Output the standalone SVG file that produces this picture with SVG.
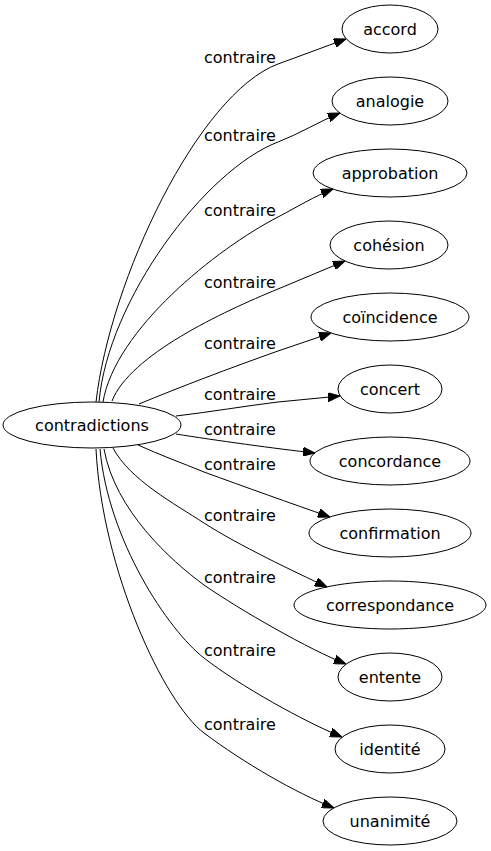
<svg xmlns="http://www.w3.org/2000/svg" width="491" height="851" viewBox="0 0 491 851">
<defs>
<style>
.n ellipse{fill:none;stroke:#000;stroke-width:1}
text{font-family:"DejaVu Sans",sans-serif;font-size:16px;fill:#000}
.n text{text-anchor:middle}
.e path{fill:none;stroke:#000;stroke-width:1;marker-end:url(#ah)}
</style>
<marker id="ah" markerWidth="12" markerHeight="9" refX="12" refY="4.5" orient="auto" markerUnits="userSpaceOnUse">
<path d="M0,0 L12,4.5 L0,9 z" fill="#000" stroke="#000" stroke-width="1"/>
</marker>
</defs>
<rect width="491" height="851" fill="#fff"/>
<g id="edges" class="e">
<path d="M96,402 C110,280 198,94 278,64 C300,56 324,47 346,39"/>
<path d="M99,402 C108,300 205,170 278,142 C299,134 320,121 340,113"/>
<path d="M103,402 C115,330 216,249 278,217 C297,207 315,196 333,189"/>
<path d="M112,401 C130,355 222,312 278,289 C300,280 323,270 345,261"/>
<path d="M139,404 C180,387 230,368 278,351 C296,345 313,339 331,333"/>
<path d="M176,416 C210,412 245,406 278,402 C299,400 319,398 340,396"/>
<path d="M176,434 C213,440 278,449 315,453"/>
<path d="M138,445 C160,455 182,463 204,472 C245,487 290,503 330,517"/>
<path d="M113,448 C130,480 175,504 204,523 C238,545 295,572 327,587"/>
<path d="M104,449 C115,510 170,560 204,585 C240,610 310,650 346,664"/>
<path d="M100,449 C108,540 168,630 204,658 C240,686 305,722 342,737"/>
<path d="M96,449 C102,570 164,703 204,733 C244,763 296,793 334,808"/>
</g>
<g id="edge-labels">
<text x="204" y="63">contraire</text>
<text x="204" y="141">contraire</text>
<text x="204" y="216">contraire</text>
<text x="204" y="288">contraire</text>
<text x="204" y="349">contraire</text>
<text x="204" y="400">contraire</text>
<text x="204" y="435">contraire</text>
<text x="204" y="470">contraire</text>
<text x="204" y="521">contraire</text>
<text x="204" y="583">contraire</text>
<text x="204" y="656">contraire</text>
<text x="204" y="730">contraire</text>
</g>
<g id="contradictions" class="n"><ellipse cx="92" cy="425" rx="89" ry="23"/><text x="92" y="431">contradictions</text></g>
<g id="accord" class="n"><ellipse cx="390" cy="29" rx="48" ry="24"/><text x="390" y="34.5">accord</text></g>
<g id="analogie" class="n"><ellipse cx="390" cy="101" rx="58" ry="24"/><text x="390" y="106.5">analogie</text></g>
<g id="approbation" class="n"><ellipse cx="390" cy="173" rx="77" ry="24"/><text x="390" y="178.5">approbation</text></g>
<g id="cohesion" class="n"><ellipse cx="389" cy="245" rx="59" ry="24"/><text x="389" y="250.5">cohésion</text></g>
<g id="coincidence" class="n"><ellipse cx="390" cy="317" rx="79" ry="24"/><text x="390" y="322.5">coïncidence</text></g>
<g id="concert" class="n"><ellipse cx="390" cy="389" rx="52" ry="24"/><text x="390" y="394.5">concert</text></g>
<g id="concordance" class="n"><ellipse cx="390" cy="461" rx="80" ry="24"/><text x="390" y="466.5">concordance</text></g>
<g id="confirmation" class="n"><ellipse cx="390" cy="533" rx="81" ry="24"/><text x="390" y="538.5">confirmation</text></g>
<g id="correspondance" class="n"><ellipse cx="390" cy="605" rx="96" ry="24"/><text x="390" y="610.5">correspondance</text></g>
<g id="entente" class="n"><ellipse cx="390" cy="677" rx="52" ry="24"/><text x="390" y="682.5">entente</text></g>
<g id="identite" class="n"><ellipse cx="390" cy="749" rx="55" ry="24"/><text x="390" y="754.5">identité</text></g>
<g id="unanimite" class="n"><ellipse cx="390" cy="821" rx="67" ry="24"/><text x="390" y="826.5">unanimité</text></g>
</svg>
